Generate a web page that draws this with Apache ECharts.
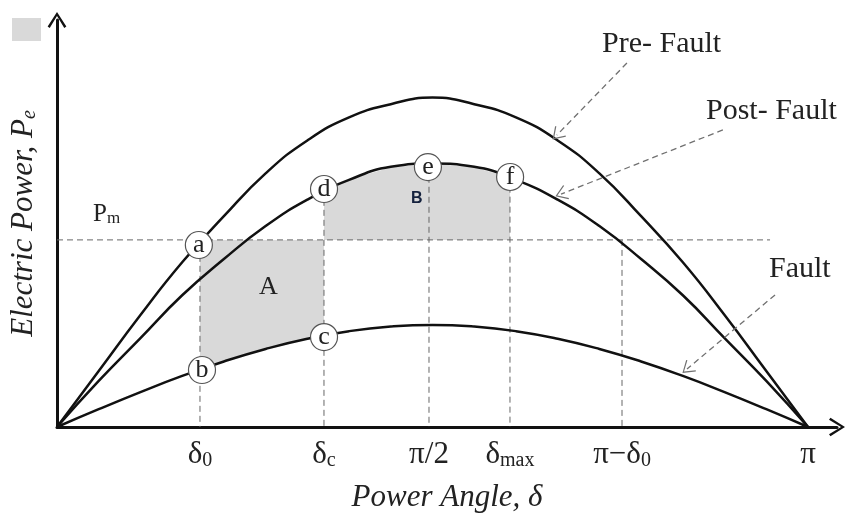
<!DOCTYPE html>
<html>
<head>
<meta charset="utf-8">
<script src="https://cdn.jsdelivr.net/npm/echarts@6/dist/echarts.min.js"></script>
<style>
  html, body { margin: 0; padding: 0; background: #fff; }
  #chart { width: 846px; height: 518px; }
</style>
</head>
<body>
<div id="chart"></div>
<script>
// power angle in degrees (0..180 = 0..π), power in per-unit of pre-fault max
const angles = [0, 10, 20, 30, 40, 50, 60, 70, 80, 90, 100, 110, 120, 130, 140, 150, 160, 170, 180];
const preFault = [0, 0.17, 0.34, 0.50, 0.64, 0.77, 0.87, 0.94, 0.98, 1.00, 0.98, 0.94, 0.87, 0.77, 0.64, 0.50, 0.34, 0.17, 0];
const postFault = [0, 0.14, 0.27, 0.40, 0.51, 0.61, 0.69, 0.75, 0.79, 0.80, 0.79, 0.75, 0.69, 0.61, 0.51, 0.40, 0.27, 0.14, 0];
const fault = [0, 0.054, 0.106, 0.155, 0.199, 0.237, 0.268, 0.291, 0.305, 0.31, 0.305, 0.291, 0.268, 0.237, 0.199, 0.155, 0.106, 0.054, 0];

const pm = 0.568;
const pmEnd = 170.9;

// tick positions and labels
const tickValues = [34.27, 63.99, 89.16, 108.57, 135.42, 180];
const tickLabels = ['{t|δ}{s|0}', '{t|δ}{s|c}', '{t|π/2}', '{t|δ}{s|max}', '{t|π−δ}{s|0}', '{t|π}'];

// vertical guide lines: x and top value
const guideX = [34.27, 63.99, 89.16, 108.57, 135.42];
const guideTop = [0.55, 0.72, 0.79, 0.76, 0.568];

// lettered points
const pointNames = ['a', 'b', 'c', 'd', 'e', 'f'];
const pointX = [34.0, 34.75, 64.0, 64.0, 88.9, 108.6];
const pointY = [0.5525, 0.173, 0.273, 0.7225, 0.789, 0.759];

// shaded areas
const areaA = [[34.27, 0.568], [63.99, 0.568], [63.99, 0.279], [55, 0.254], [45, 0.219], [34.27, 0.175]];
const areaB = [[63.99, 0.568], [63.99, 0.719], [70, 0.752], [80, 0.788], [90, 0.80], [100, 0.788], [108.57, 0.758], [108.57, 0.568]];

// annotation arrows [from, to]
const arrows = [
  [[136.6, 1.105], [119.8, 0.886]],
  [[159.6, 0.902], [120.8, 0.707]],
  [[172.1, 0.401], [151.0, 0.176]]
];

const serif = '"Liberation Serif", "DejaVu Serif", serif';
const chevron = 'path://M0,14 L9,0 L18,14 L16,15.4 L9,3.8 L2,15.4 Z';
const openHead = 'path://M0,14 L9,0 L18,14 L16.8,15 L9,2.6 L1.2,15 Z';

const chart = echarts.init(document.getElementById('chart'));

const curve = (vals) => angles.map((a, i) => [a, vals[i]]);
const dashStyle = { color: '#666', width: 1, type: [6, 4] };

const polygonSeries = (pts) => ({
  type: 'custom',
  data: [0],
  z: 1,
  silent: true,
  renderItem: (params, api) => ({
    type: 'polygon',
    shape: { points: pts.map(p => api.coord(p)) },
    style: { fill: '#d9d9d9' }
  })
});

const series = [
  polygonSeries(areaA),
  polygonSeries(areaB),
  {
    type: 'line', data: [[0, pm], [pmEnd, pm]], symbol: 'none', z: 2,
    lineStyle: dashStyle
  },
  ...guideX.map((x, i) => ({
    type: 'line', data: [[x, guideTop[i]], [x, 0]], symbol: 'none', z: 2,
    lineStyle: dashStyle
  })),
  ...[preFault, postFault, fault].map(v => ({
    type: 'line', data: curve(v), symbol: 'none', smooth: true, z: 3,
    lineStyle: { color: '#111', width: 2.5 }
  })),
  {
    type: 'line', data: [], z: 3,
    markLine: {
      silent: true, animation: false,
      symbol: ['none', openHead], symbolSize: [15, 12],
      lineStyle: { color: '#707070', width: 1.3, type: [6, 4] },
      label: { show: false },
      data: arrows.map(a => [{ coord: a[0] }, { coord: a[1] }])
    }
  },
  {
    type: 'scatter', z: 5,
    data: pointNames.map((n, i) => [pointX[i], pointY[i], n]),
    symbolSize: 27,
    itemStyle: { color: '#fff', borderColor: '#555', borderWidth: 1.2, opacity: 1 },
    label: {
      show: true, position: 'inside', formatter: p => p.value[2],
      fontFamily: serif, fontSize: 26, color: '#222', padding: [0, 0, 4, 0]
    }
  }
];

chart.setOption({
  animation: false,
  grid: { left: 57, right: 9, top: 20, bottom: 91, outerBoundsMode: 'none' },
  xAxis: {
    type: 'value', min: 0, max: 186.95,
    splitLine: { show: false },
    axisTick: { show: false },
    axisLine: {
      onZero: false, symbol: ['none', chevron], symbolSize: [20, 16],
      lineStyle: { color: '#111', width: 3 }
    },
    axisLabel: {
      customValues: tickValues, margin: 12,
      formatter: v => tickLabels[tickValues.findIndex(t => Math.abs(t - v) < 0.01)] || '',
      rich: {
        t: { fontFamily: serif, fontSize: 31, lineHeight: 32, color: '#222' },
        s: { fontFamily: serif, fontSize: 20, lineHeight: 20, color: '#222', verticalAlign: 'bottom' }
      }
    },
    name: '{t|Power Angle, δ}',
    nameLocation: 'middle', nameGap: 55,
    nameTextStyle: {
      rich: { t: { fontFamily: serif, fontStyle: 'italic', fontSize: 31, color: '#222' } }
    }
  },
  yAxis: {
    type: 'value', min: 0, max: 1.2356,
    splitLine: { show: false },
    axisTick: { show: false },
    axisLabel: { show: false },
    axisLine: {
      show: true, symbol: ['none', chevron], symbolSize: [20, 16],
      lineStyle: { color: '#111', width: 3 }
    },
    name: '{t|Electric Power, P}{s|e}',
    nameLocation: 'middle', nameRotate: 90, nameGap: 17,
    nameTextStyle: {
      rich: {
        t: { fontFamily: serif, fontStyle: 'italic', fontSize: 31, lineHeight: 32, color: '#222' },
        s: { fontFamily: serif, fontStyle: 'italic', fontSize: 20, lineHeight: 20, color: '#222', verticalAlign: 'bottom' }
      }
    }
  },
  graphic: [
    { type: 'rect', left: 12, top: 18, shape: { width: 29, height: 23 }, style: { fill: '#d9d9d9' } },
    { type: 'text', left: 602, top: 29, style: { text: 'Pre- Fault', font: '30px ' + serif, fill: '#222' } },
    { type: 'text', left: 706, top: 96, style: { text: 'Post- Fault', font: '30px ' + serif, fill: '#222' } },
    { type: 'text', left: 769, top: 254, style: { text: 'Fault', font: '30px ' + serif, fill: '#222' } },
    { type: 'text', left: 259, top: 274, z: 10, style: { text: 'A', font: '26px ' + serif, fill: '#222' } },
    { type: 'text', left: 411, top: 191, z: 10, style: { text: 'B', font: 'bold 16px "Liberation Sans", Arial, sans-serif', fill: '#14213d' } },
    {
      type: 'text', left: 93, top: 202,
      style: {
        text: '{t|P}{s|m}',
        rich: {
          t: { fontFamily: serif, fontSize: 25, lineHeight: 26, fill: '#222' },
          s: { fontFamily: serif, fontSize: 17, lineHeight: 16, fill: '#222', verticalAlign: 'bottom' }
        }
      }
    }
  ],
  series: series
});
</script>
</body>
</html>
